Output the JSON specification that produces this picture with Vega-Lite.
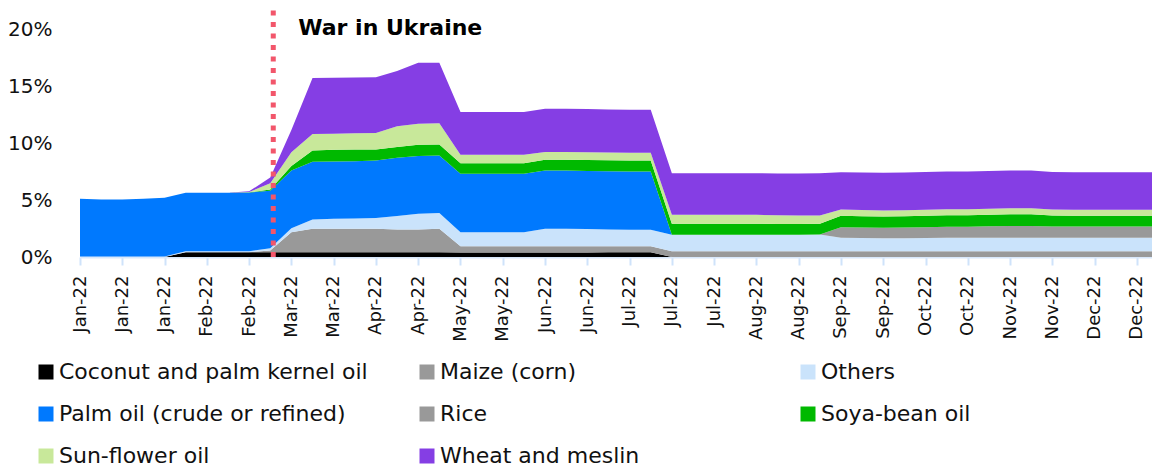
{
  "$schema": "https://vega.github.io/schema/vega-lite/v6.json",
  "width": 1072,
  "height": 228,
  "autosize": {"type": "none"},
  "padding": {"left": 80, "top": 29, "right": 0, "bottom": 212},
  "background": "white",
  "config": {"view": {"stroke": null}, "font": "DejaVu Sans"},
  "datasets": {
    "weekly": [
      {"week": "2022-01-01", "Coconut and palm kernel oil": 0, "Maize (corn)": 0, "Others": 0.05, "Palm oil (crude or refined)": 5.05, "Rice": 0, "Soya-bean oil": 0, "Sun-flower oil": 0, "Wheat and meslin": 0},
      {"week": "2022-01-08", "Coconut and palm kernel oil": 0, "Maize (corn)": 0, "Others": 0.05, "Palm oil (crude or refined)": 4.99, "Rice": 0, "Soya-bean oil": 0, "Sun-flower oil": 0, "Wheat and meslin": 0},
      {"week": "2022-01-15", "Coconut and palm kernel oil": 0, "Maize (corn)": 0, "Others": 0.05, "Palm oil (crude or refined)": 4.99, "Rice": 0, "Soya-bean oil": 0, "Sun-flower oil": 0, "Wheat and meslin": 0},
      {"week": "2022-01-22", "Coconut and palm kernel oil": 0, "Maize (corn)": 0, "Others": 0.05, "Palm oil (crude or refined)": 5.05, "Rice": 0, "Soya-bean oil": 0, "Sun-flower oil": 0, "Wheat and meslin": 0},
      {"week": "2022-01-29", "Coconut and palm kernel oil": 0, "Maize (corn)": 0, "Others": 0.05, "Palm oil (crude or refined)": 5.15, "Rice": 0, "Soya-bean oil": 0, "Sun-flower oil": 0, "Wheat and meslin": 0},
      {"week": "2022-02-05", "Coconut and palm kernel oil": 0.42, "Maize (corn)": 0, "Others": 0.08, "Palm oil (crude or refined)": 5.13, "Rice": 0, "Soya-bean oil": 0, "Sun-flower oil": 0, "Wheat and meslin": 0},
      {"week": "2022-02-12", "Coconut and palm kernel oil": 0.42, "Maize (corn)": 0, "Others": 0.08, "Palm oil (crude or refined)": 5.13, "Rice": 0, "Soya-bean oil": 0, "Sun-flower oil": 0, "Wheat and meslin": 0},
      {"week": "2022-02-19", "Coconut and palm kernel oil": 0.42, "Maize (corn)": 0, "Others": 0.08, "Palm oil (crude or refined)": 5.14, "Rice": 0, "Soya-bean oil": 0, "Sun-flower oil": 0, "Wheat and meslin": 0},
      {"week": "2022-02-26", "Coconut and palm kernel oil": 0.42, "Maize (corn)": 0, "Others": 0.09, "Palm oil (crude or refined)": 5.15, "Rice": 0, "Soya-bean oil": 0.01, "Sun-flower oil": 0.03, "Wheat and meslin": 0.06},
      {"week": "2022-03-05", "Coconut and palm kernel oil": 0.42, "Maize (corn)": 0.15, "Others": 0.2, "Palm oil (crude or refined)": 5.05, "Rice": 0, "Soya-bean oil": 0.1, "Sun-flower oil": 0.55, "Wheat and meslin": 0.5},
      {"week": "2022-03-12", "Coconut and palm kernel oil": 0.42, "Maize (corn)": 1.75, "Others": 0.35, "Palm oil (crude or refined)": 5.06, "Rice": 0, "Soya-bean oil": 0.4, "Sun-flower oil": 1.2, "Wheat and meslin": 1.95},
      {"week": "2022-03-19", "Coconut and palm kernel oil": 0.42, "Maize (corn)": 2.05, "Others": 0.82, "Palm oil (crude or refined)": 5.06, "Rice": 0, "Soya-bean oil": 0.99, "Sun-flower oil": 1.46, "Wheat and meslin": 4.91},
      {"week": "2022-03-26", "Coconut and palm kernel oil": 0.42, "Maize (corn)": 2.05, "Others": 0.88, "Palm oil (crude or refined)": 5.03, "Rice": 0, "Soya-bean oil": 1.03, "Sun-flower oil": 1.4, "Wheat and meslin": 4.91},
      {"week": "2022-04-02", "Coconut and palm kernel oil": 0.42, "Maize (corn)": 2.05, "Others": 0.9, "Palm oil (crude or refined)": 5.03, "Rice": 0, "Soya-bean oil": 1.03, "Sun-flower oil": 1.43, "Wheat and meslin": 4.89},
      {"week": "2022-04-09", "Coconut and palm kernel oil": 0.42, "Maize (corn)": 2.05, "Others": 0.96, "Palm oil (crude or refined)": 5.03, "Rice": 0, "Soya-bean oil": 0.96, "Sun-flower oil": 1.46, "Wheat and meslin": 4.88},
      {"week": "2022-04-16", "Coconut and palm kernel oil": 0.42, "Maize (corn)": 2.0, "Others": 1.17, "Palm oil (crude or refined)": 5.12, "Rice": 0, "Soya-bean oil": 0.93, "Sun-flower oil": 1.82, "Wheat and meslin": 4.85},
      {"week": "2022-04-23", "Coconut and palm kernel oil": 0.42, "Maize (corn)": 2.0, "Others": 1.38, "Palm oil (crude or refined)": 5.05, "Rice": 0, "Soya-bean oil": 1.0, "Sun-flower oil": 1.84, "Wheat and meslin": 5.35},
      {"week": "2022-04-30", "Coconut and palm kernel oil": 0.42, "Maize (corn)": 2.05, "Others": 1.4, "Palm oil (crude or refined)": 5.03, "Rice": 0, "Soya-bean oil": 0.96, "Sun-flower oil": 1.87, "Wheat and meslin": 5.3},
      {"week": "2022-05-07", "Coconut and palm kernel oil": 0.4, "Maize (corn)": 0.55, "Others": 1.23, "Palm oil (crude or refined)": 5.12, "Rice": 0, "Soya-bean oil": 0.93, "Sun-flower oil": 0.74, "Wheat and meslin": 3.74},
      {"week": "2022-05-14", "Coconut and palm kernel oil": 0.4, "Maize (corn)": 0.55, "Others": 1.23, "Palm oil (crude or refined)": 5.12, "Rice": 0, "Soya-bean oil": 0.93, "Sun-flower oil": 0.74, "Wheat and meslin": 3.74},
      {"week": "2022-05-21", "Coconut and palm kernel oil": 0.4, "Maize (corn)": 0.55, "Others": 1.23, "Palm oil (crude or refined)": 5.12, "Rice": 0, "Soya-bean oil": 0.93, "Sun-flower oil": 0.74, "Wheat and meslin": 3.74},
      {"week": "2022-05-28", "Coconut and palm kernel oil": 0.4, "Maize (corn)": 0.55, "Others": 1.23, "Palm oil (crude or refined)": 5.12, "Rice": 0, "Soya-bean oil": 0.93, "Sun-flower oil": 0.74, "Wheat and meslin": 3.74},
      {"week": "2022-06-04", "Coconut and palm kernel oil": 0.4, "Maize (corn)": 0.55, "Others": 1.53, "Palm oil (crude or refined)": 5.11, "Rice": 0, "Soya-bean oil": 0.94, "Sun-flower oil": 0.67, "Wheat and meslin": 3.81},
      {"week": "2022-06-11", "Coconut and palm kernel oil": 0.4, "Maize (corn)": 0.55, "Others": 1.53, "Palm oil (crude or refined)": 5.11, "Rice": 0, "Soya-bean oil": 0.94, "Sun-flower oil": 0.67, "Wheat and meslin": 3.81},
      {"week": "2022-06-18", "Coconut and palm kernel oil": 0.4, "Maize (corn)": 0.55, "Others": 1.5, "Palm oil (crude or refined)": 5.1, "Rice": 0, "Soya-bean oil": 0.96, "Sun-flower oil": 0.67, "Wheat and meslin": 3.8},
      {"week": "2022-06-25", "Coconut and palm kernel oil": 0.42, "Maize (corn)": 0.53, "Others": 1.47, "Palm oil (crude or refined)": 5.1, "Rice": 0, "Soya-bean oil": 0.96, "Sun-flower oil": 0.68, "Wheat and meslin": 3.78},
      {"week": "2022-07-02", "Coconut and palm kernel oil": 0.42, "Maize (corn)": 0.53, "Others": 1.45, "Palm oil (crude or refined)": 5.11, "Rice": 0, "Soya-bean oil": 0.96, "Sun-flower oil": 0.68, "Wheat and meslin": 3.77},
      {"week": "2022-07-09", "Coconut and palm kernel oil": 0.42, "Maize (corn)": 0.53, "Others": 1.44, "Palm oil (crude or refined)": 5.11, "Rice": 0, "Soya-bean oil": 0.96, "Sun-flower oil": 0.68, "Wheat and meslin": 3.77},
      {"week": "2022-07-16", "Coconut and palm kernel oil": 0, "Maize (corn)": 0.51, "Others": 1.44, "Palm oil (crude or refined)": 0, "Rice": 0, "Soya-bean oil": 0.96, "Sun-flower oil": 0.79, "Wheat and meslin": 3.65},
      {"week": "2022-07-23", "Coconut and palm kernel oil": 0, "Maize (corn)": 0.51, "Others": 1.44, "Palm oil (crude or refined)": 0, "Rice": 0, "Soya-bean oil": 0.96, "Sun-flower oil": 0.79, "Wheat and meslin": 3.65},
      {"week": "2022-07-30", "Coconut and palm kernel oil": 0, "Maize (corn)": 0.51, "Others": 1.44, "Palm oil (crude or refined)": 0, "Rice": 0, "Soya-bean oil": 0.96, "Sun-flower oil": 0.79, "Wheat and meslin": 3.65},
      {"week": "2022-08-06", "Coconut and palm kernel oil": 0, "Maize (corn)": 0.51, "Others": 1.44, "Palm oil (crude or refined)": 0, "Rice": 0, "Soya-bean oil": 0.96, "Sun-flower oil": 0.79, "Wheat and meslin": 3.65},
      {"week": "2022-08-13", "Coconut and palm kernel oil": 0, "Maize (corn)": 0.51, "Others": 1.44, "Palm oil (crude or refined)": 0, "Rice": 0, "Soya-bean oil": 0.96, "Sun-flower oil": 0.79, "Wheat and meslin": 3.65},
      {"week": "2022-08-20", "Coconut and palm kernel oil": 0, "Maize (corn)": 0.51, "Others": 1.44, "Palm oil (crude or refined)": 0, "Rice": 0, "Soya-bean oil": 0.95, "Sun-flower oil": 0.77, "Wheat and meslin": 3.66},
      {"week": "2022-08-27", "Coconut and palm kernel oil": 0, "Maize (corn)": 0.51, "Others": 1.45, "Palm oil (crude or refined)": 0, "Rice": 0, "Soya-bean oil": 0.94, "Sun-flower oil": 0.75, "Wheat and meslin": 3.68},
      {"week": "2022-09-03", "Coconut and palm kernel oil": 0, "Maize (corn)": 0.51, "Others": 1.46, "Palm oil (crude or refined)": 0, "Rice": 0, "Soya-bean oil": 0.94, "Sun-flower oil": 0.73, "Wheat and meslin": 3.7},
      {"week": "2022-09-10", "Coconut and palm kernel oil": 0, "Maize (corn)": 0.51, "Others": 1.18, "Palm oil (crude or refined)": 0, "Rice": 0.93, "Soya-bean oil": 1.0, "Sun-flower oil": 0.55, "Wheat and meslin": 3.27},
      {"week": "2022-09-17", "Coconut and palm kernel oil": 0, "Maize (corn)": 0.51, "Others": 1.16, "Palm oil (crude or refined)": 0, "Rice": 0.92, "Soya-bean oil": 0.99, "Sun-flower oil": 0.54, "Wheat and meslin": 3.3},
      {"week": "2022-09-24", "Coconut and palm kernel oil": 0, "Maize (corn)": 0.51, "Others": 1.14, "Palm oil (crude or refined)": 0, "Rice": 0.91, "Soya-bean oil": 0.99, "Sun-flower oil": 0.53, "Wheat and meslin": 3.3},
      {"week": "2022-10-01", "Coconut and palm kernel oil": 0, "Maize (corn)": 0.51, "Others": 1.14, "Palm oil (crude or refined)": 0, "Rice": 0.93, "Soya-bean oil": 1.0, "Sun-flower oil": 0.53, "Wheat and meslin": 3.3},
      {"week": "2022-10-08", "Coconut and palm kernel oil": 0, "Maize (corn)": 0.51, "Others": 1.16, "Palm oil (crude or refined)": 0, "Rice": 0.95, "Soya-bean oil": 1.0, "Sun-flower oil": 0.53, "Wheat and meslin": 3.3},
      {"week": "2022-10-15", "Coconut and palm kernel oil": 0, "Maize (corn)": 0.51, "Others": 1.17, "Palm oil (crude or refined)": 0, "Rice": 0.97, "Soya-bean oil": 1.01, "Sun-flower oil": 0.53, "Wheat and meslin": 3.3},
      {"week": "2022-10-22", "Coconut and palm kernel oil": 0, "Maize (corn)": 0.51, "Others": 1.17, "Palm oil (crude or refined)": 0, "Rice": 0.97, "Soya-bean oil": 1.01, "Sun-flower oil": 0.53, "Wheat and meslin": 3.3},
      {"week": "2022-10-29", "Coconut and palm kernel oil": 0, "Maize (corn)": 0.51, "Others": 1.18, "Palm oil (crude or refined)": 0, "Rice": 1.0, "Soya-bean oil": 1.02, "Sun-flower oil": 0.53, "Wheat and meslin": 3.31},
      {"week": "2022-11-05", "Coconut and palm kernel oil": 0, "Maize (corn)": 0.51, "Others": 1.18, "Palm oil (crude or refined)": 0, "Rice": 1.02, "Soya-bean oil": 1.03, "Sun-flower oil": 0.53, "Wheat and meslin": 3.31},
      {"week": "2022-11-12", "Coconut and palm kernel oil": 0, "Maize (corn)": 0.51, "Others": 1.18, "Palm oil (crude or refined)": 0, "Rice": 1.02, "Soya-bean oil": 1.03, "Sun-flower oil": 0.53, "Wheat and meslin": 3.31},
      {"week": "2022-11-19", "Coconut and palm kernel oil": 0, "Maize (corn)": 0.51, "Others": 1.18, "Palm oil (crude or refined)": 0, "Rice": 0.98, "Soya-bean oil": 0.96, "Sun-flower oil": 0.53, "Wheat and meslin": 3.3},
      {"week": "2022-11-26", "Coconut and palm kernel oil": 0, "Maize (corn)": 0.51, "Others": 1.18, "Palm oil (crude or refined)": 0, "Rice": 0.98, "Soya-bean oil": 0.94, "Sun-flower oil": 0.53, "Wheat and meslin": 3.3},
      {"week": "2022-12-03", "Coconut and palm kernel oil": 0, "Maize (corn)": 0.51, "Others": 1.18, "Palm oil (crude or refined)": 0, "Rice": 0.98, "Soya-bean oil": 0.94, "Sun-flower oil": 0.53, "Wheat and meslin": 3.3},
      {"week": "2022-12-10", "Coconut and palm kernel oil": 0, "Maize (corn)": 0.51, "Others": 1.18, "Palm oil (crude or refined)": 0, "Rice": 0.98, "Soya-bean oil": 0.94, "Sun-flower oil": 0.53, "Wheat and meslin": 3.3},
      {"week": "2022-12-17", "Coconut and palm kernel oil": 0, "Maize (corn)": 0.51, "Others": 1.18, "Palm oil (crude or refined)": 0, "Rice": 0.98, "Soya-bean oil": 0.94, "Sun-flower oil": 0.53, "Wheat and meslin": 3.3},
      {"week": "2022-12-24", "Coconut and palm kernel oil": 0, "Maize (corn)": 0.51, "Others": 1.18, "Palm oil (crude or refined)": 0, "Rice": 0.98, "Soya-bean oil": 0.94, "Sun-flower oil": 0.53, "Wheat and meslin": 3.3}
    ],
    "events": [{"date": "2022-03-06", "label": "War in Ukraine"}]
  },
  "layer": [
    {
      "data": {"name": "weekly"},
      "transform": [
        {"fold": ["Coconut and palm kernel oil", "Maize (corn)", "Others", "Palm oil (crude or refined)", "Rice", "Soya-bean oil", "Sun-flower oil", "Wheat and meslin"], "as": ["product", "share"]}
      ],
      "mark": {"type": "area", "clip": true},
      "encoding": {
        "x": {
          "field": "week",
          "type": "temporal",
          "scale": {
            "type": "utc",
            "domain": [{"year": 2022, "month": 1, "date": 1, "utc": true}, {"year": 2022, "month": 12, "date": 22, "utc": true}]
          },
          "axis": {
            "title": null,
            "values": [
              {"year": 2022, "month": 1, "date": 1, "utc": true},
              {"year": 2022, "month": 1, "date": 15, "utc": true},
              {"year": 2022, "month": 1, "date": 29, "utc": true},
              {"year": 2022, "month": 2, "date": 12, "utc": true},
              {"year": 2022, "month": 2, "date": 26, "utc": true},
              {"year": 2022, "month": 3, "date": 12, "utc": true},
              {"year": 2022, "month": 3, "date": 26, "utc": true},
              {"year": 2022, "month": 4, "date": 9, "utc": true},
              {"year": 2022, "month": 4, "date": 23, "utc": true},
              {"year": 2022, "month": 5, "date": 7, "utc": true},
              {"year": 2022, "month": 5, "date": 21, "utc": true},
              {"year": 2022, "month": 6, "date": 4, "utc": true},
              {"year": 2022, "month": 6, "date": 18, "utc": true},
              {"year": 2022, "month": 7, "date": 2, "utc": true},
              {"year": 2022, "month": 7, "date": 16, "utc": true},
              {"year": 2022, "month": 7, "date": 30, "utc": true},
              {"year": 2022, "month": 8, "date": 13, "utc": true},
              {"year": 2022, "month": 8, "date": 27, "utc": true},
              {"year": 2022, "month": 9, "date": 10, "utc": true},
              {"year": 2022, "month": 9, "date": 24, "utc": true},
              {"year": 2022, "month": 10, "date": 8, "utc": true},
              {"year": 2022, "month": 10, "date": 22, "utc": true},
              {"year": 2022, "month": 11, "date": 5, "utc": true},
              {"year": 2022, "month": 11, "date": 19, "utc": true},
              {"year": 2022, "month": 12, "date": 3, "utc": true},
              {"year": 2022, "month": 12, "date": 17, "utc": true}
            ],
            "labelExpr": "utcFormat(datum.value, '%b-%y')",
            "labelAngle": -90,
            "labelFont": "DejaVu Sans",
            "labelFontSize": 18,
            "labelColor": "#111111",
            "labelPadding": 10,
            "labelOverlap": false,
            "labelFlush": false,
            "labelBound": false,
            "tickColor": "#cfe3fa",
            "tickSize": 8,
            "tickWidth": 2,
            "domainColor": "#d8e8fb",
            "domainWidth": 2,
            "grid": false
          }
        },
        "y": {
          "field": "share",
          "type": "quantitative",
          "stack": "zero",
          "scale": {"domain": [0, 20], "nice": false, "zero": true},
          "axis": {
            "title": null,
            "values": [0, 5, 10, 15, 20],
            "labelExpr": "datum.value + '%'",
            "labelFont": "DejaVu Sans",
            "labelFontSize": 20,
            "labelColor": "#111111",
            "labelPadding": 28,
            "ticks": false,
            "domain": false,
            "grid": false
          }
        },
        "color": {
          "field": "product",
          "type": "nominal",
          "scale": {
            "domain": ["Coconut and palm kernel oil", "Maize (corn)", "Others", "Palm oil (crude or refined)", "Rice", "Soya-bean oil", "Sun-flower oil", "Wheat and meslin"],
            "range": ["#000000", "#999999", "#cae3fb", "#0079fe", "#999999", "#00b900", "#c8e89a", "#853ee4"]
          },
          "legend": {
            "title": null,
            "orient": "none",
            "direction": "horizontal",
            "legendX": -45,
            "legendY": 332,
            "columns": 3,
            "gridAlign": "all",
            "columnPadding": 48,
            "rowPadding": 20,
            "padding": 0,
            "symbolType": "square",
            "symbolSize": 225,
            "symbolStrokeWidth": 0,
            "symbolOpacity": 1,
            "labelFont": "DejaVu Sans",
            "labelFontSize": 22,
            "labelColor": "#111111",
            "labelLimit": 500,
            "labelOffset": 2
          }
        },
        "order": {"field": "product", "sort": "ascending"}
      }
    },
    {
      "data": {"name": "events"},
      "mark": {"type": "rule", "color": "#f2566b", "strokeWidth": 5, "strokeDash": [5, 6.5], "strokeCap": "butt"},
      "encoding": {
        "x": {"field": "date", "type": "temporal"},
        "y": {"datum": 0},
        "y2": {"datum": 21.8}
      }
    },
    {
      "data": {"name": "events"},
      "mark": {"type": "text", "align": "left", "baseline": "middle", "dx": 25, "font": "DejaVu Sans", "fontSize": 22, "fontWeight": "bold", "color": "#000000"},
      "encoding": {
        "x": {"field": "date", "type": "temporal"},
        "y": {"datum": 20.1},
        "text": {"field": "label"}
      }
    }
  ]
}
